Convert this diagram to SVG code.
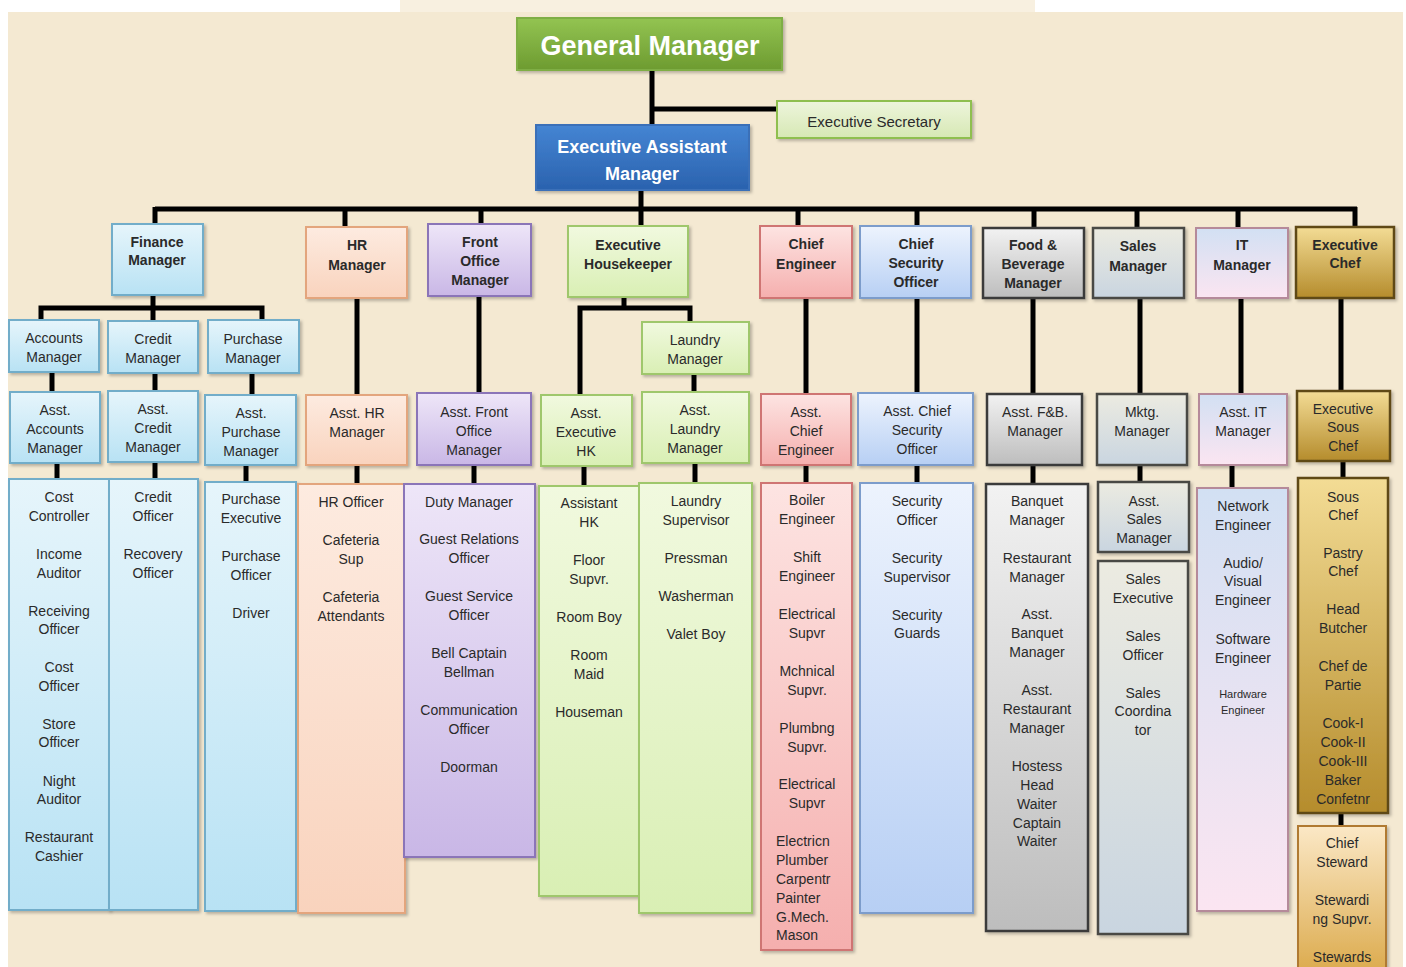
<svg xmlns="http://www.w3.org/2000/svg" width="1406" height="967" viewBox="0 0 1406 967">
<defs>
<linearGradient id="gGreen" x1="0" y1="0" x2="0" y2="1"><stop offset="0" stop-color="#93c452"/><stop offset="1" stop-color="#6d9b30"/></linearGradient>
<linearGradient id="gBlueD" x1="0" y1="0" x2="0" y2="1"><stop offset="0" stop-color="#4585d3"/><stop offset="1" stop-color="#2a62ae"/></linearGradient>
<linearGradient id="gSec" x1="0" y1="0" x2="0" y2="1"><stop offset="0" stop-color="#eef5dc"/><stop offset="1" stop-color="#d6e8b4"/></linearGradient>
<linearGradient id="gFin" x1="0" y1="0" x2="0" y2="1"><stop offset="0" stop-color="#e6f5fb"/><stop offset="1" stop-color="#b8e2f4"/></linearGradient>
<linearGradient id="gHR" x1="0" y1="0" x2="0" y2="1"><stop offset="0" stop-color="#fdebe0"/><stop offset="1" stop-color="#f9d3bd"/></linearGradient>
<linearGradient id="gFO" x1="0" y1="0" x2="0" y2="1"><stop offset="0" stop-color="#eee6f8"/><stop offset="1" stop-color="#c9b7e6"/></linearGradient>
<linearGradient id="gHK" x1="0" y1="0" x2="0" y2="1"><stop offset="0" stop-color="#f1f9df"/><stop offset="1" stop-color="#d9efb4"/></linearGradient>
<linearGradient id="gEng" x1="0" y1="0" x2="0" y2="1"><stop offset="0" stop-color="#fde4e2"/><stop offset="1" stop-color="#f5afae"/></linearGradient>
<linearGradient id="gSecu" x1="0" y1="0" x2="0" y2="1"><stop offset="0" stop-color="#edf3fd"/><stop offset="1" stop-color="#b7cff4"/></linearGradient>
<linearGradient id="gFB" x1="0" y1="0" x2="0" y2="1"><stop offset="0" stop-color="#f2f2f2"/><stop offset="1" stop-color="#bdbdbd"/></linearGradient>
<linearGradient id="gSales" x1="0" y1="0" x2="0" y2="1"><stop offset="0" stop-color="#ecebe1"/><stop offset="1" stop-color="#c9d5e0"/></linearGradient>
<linearGradient id="gIT" x1="0" y1="0" x2="0" y2="1"><stop offset="0" stop-color="#d2e0f3"/><stop offset="1" stop-color="#fbe5f1"/></linearGradient>
<linearGradient id="gChef" x1="0" y1="0" x2="0" y2="1"><stop offset="0" stop-color="#f3dc95"/><stop offset="1" stop-color="#b58c2c"/></linearGradient>
<linearGradient id="gStew" x1="0" y1="0" x2="0" y2="1"><stop offset="0" stop-color="#fbe8c6"/><stop offset="1" stop-color="#dba94a"/></linearGradient>
<filter id="sh" x="-10%" y="-10%" width="130%" height="130%"><feDropShadow dx="2" dy="2" stdDeviation="1.5" flood-color="#000" flood-opacity="0.25"/></filter>
</defs>
<style>
text{font-family:"Liberation Sans",Arial,sans-serif;font-size:14px;fill:#2a2a2a;text-anchor:middle;dominant-baseline:central}
.b{font-weight:bold}
.l{text-anchor:start}
rect{stroke-width:2;filter:url(#sh)}
.bg{filter:none;stroke:none}
.fin{fill:url(#gFin);stroke:#72adc9}
.hr{fill:url(#gHR);stroke:#e3a57d}
.fo{fill:url(#gFO);stroke:#8b74b8}
.hk{fill:url(#gHK);stroke:#9fc76c}
.eng{fill:url(#gEng);stroke:#cf7573}
.secu{fill:url(#gSecu);stroke:#7b9ccb}
.fb{fill:url(#gFB);stroke:#3a3a3a;stroke-width:2.5}
.sales{fill:url(#gSales);stroke:#4a4a44;stroke-width:2.5}
.it{fill:url(#gIT);stroke:#b58a9a}
.chef{fill:url(#gChef);stroke:#5e4a18;stroke-width:2.5}
.stew{fill:url(#gStew);stroke:#b07a30}
.conn line,.conn polyline{stroke:#000;stroke-width:5;fill:none}
</style>
<rect class="bg" x="0" y="0" width="1406" height="967" fill="#ffffff"/>
<rect class="bg" x="8" y="12" width="1395" height="955" fill="#f4e9d2"/>
<rect class="bg" x="400" y="0" width="635" height="12" fill="#f8f0e0"/>

<g class="conn" id="connectors">
<line x1="652" y1="70" x2="652" y2="127"/>
<line x1="652" y1="109" x2="778" y2="109"/>
<line x1="641" y1="190" x2="641" y2="227"/>
<line x1="155" y1="209" x2="1357" y2="209"/>
<line x1="155" y1="207" x2="155" y2="225"/>
<line x1="345" y1="207" x2="345" y2="228"/>
<line x1="481" y1="207" x2="481" y2="225"/>
<line x1="798" y1="207" x2="798" y2="227"/>
<line x1="917" y1="207" x2="917" y2="227"/>
<line x1="1034" y1="207" x2="1034" y2="229"/>
<line x1="1137" y1="207" x2="1137" y2="229"/>
<line x1="1238" y1="207" x2="1238" y2="229"/>
<line x1="1355" y1="207" x2="1355" y2="228"/>
<line x1="153" y1="295" x2="153" y2="310"/>
<polyline points="41,321 41,308 262,308 262,321"/>
<line x1="153" y1="308" x2="153" y2="322"/>
<line x1="52" y1="372" x2="52" y2="393"/>
<line x1="155" y1="373" x2="155" y2="392"/>
<line x1="252" y1="373" x2="252" y2="396"/>
<line x1="57" y1="463" x2="57" y2="480"/>
<line x1="155" y1="462" x2="155" y2="480"/>
<line x1="246" y1="465" x2="246" y2="483"/>
<line x1="357" y1="298" x2="357" y2="396"/>
<line x1="357" y1="465" x2="357" y2="485"/>
<line x1="479" y1="296" x2="479" y2="394"/>
<line x1="474" y1="465" x2="474" y2="485"/>
<line x1="624" y1="297" x2="624" y2="310"/>
<polyline points="580,396 580,308 690,308 690,323"/>
<line x1="694" y1="374" x2="694" y2="393"/>
<line x1="584" y1="466" x2="584" y2="487"/>
<line x1="695" y1="463" x2="695" y2="485"/>
<line x1="806" y1="298" x2="806" y2="395"/>
<line x1="806" y1="465" x2="806" y2="484"/>
<line x1="917" y1="298" x2="917" y2="394"/>
<line x1="917" y1="465" x2="917" y2="484"/>
<line x1="1033" y1="298" x2="1033" y2="395"/>
<line x1="1033" y1="465" x2="1033" y2="485"/>
<line x1="1140" y1="298" x2="1140" y2="395"/>
<line x1="1140" y1="465" x2="1140" y2="483"/>
<line x1="1241" y1="298" x2="1241" y2="395"/>
<line x1="1232" y1="465" x2="1232" y2="489"/>
<line x1="1341" y1="298" x2="1341" y2="392"/>
<line x1="1343" y1="461" x2="1343" y2="479"/>
<line x1="1341" y1="813" x2="1341" y2="827"/>
</g>

<g id="general-manager"><rect x="517" y="18" width="265" height="52" fill="url(#gGreen)" stroke="#7fae45"/><text class="b" x="650" y="46" style="fill:#fff;font-size:27px">General Manager</text></g>
<g id="executive-secretary"><rect x="777" y="101" width="194" height="37" fill="url(#gSec)" stroke="#8fbf50"/><text x="874" y="121" style="font-size:15px">Executive Secretary</text></g>
<g id="executive-assistant-manager"><rect x="536" y="125" width="213" height="65" fill="url(#gBlueD)" stroke="#3a6fb8"/><text class="b" style="fill:#fff;font-size:18px"><tspan x="642" y="147">Executive Assistant</tspan><tspan x="642" y="174">Manager</tspan></text></g>

<g id="finance-manager"><rect class="fin" x="112" y="224" width="91" height="71"/><text class="b"><tspan x="157" y="242">Finance</tspan><tspan x="157" y="260">Manager</tspan></text></g>
<g id="accounts-manager"><rect class="fin" x="9" y="320" width="90" height="52"/><text><tspan x="54" y="338">Accounts</tspan><tspan x="54" y="357">Manager</tspan></text></g>
<g id="credit-manager"><rect class="fin" x="108" y="321" width="90" height="52"/><text><tspan x="153" y="339">Credit</tspan><tspan x="153" y="358">Manager</tspan></text></g>
<g id="purchase-manager"><rect class="fin" x="208" y="320" width="91" height="53"/><text><tspan x="253" y="339">Purchase</tspan><tspan x="253" y="358">Manager</tspan></text></g>
<g id="asst-accounts-manager"><rect class="fin" x="10" y="392" width="90" height="71"/><text><tspan x="55" y="410">Asst.</tspan><tspan x="55" y="429">Accounts</tspan><tspan x="55" y="448">Manager</tspan></text></g>
<g id="asst-credit-manager"><rect class="fin" x="108" y="391" width="90" height="71"/><text><tspan x="153" y="409">Asst.</tspan><tspan x="153" y="428">Credit</tspan><tspan x="153" y="447">Manager</tspan></text></g>
<g id="asst-purchase-manager"><rect class="fin" x="205" y="395" width="91" height="70"/><text><tspan x="251" y="413">Asst.</tspan><tspan x="251" y="432">Purchase</tspan><tspan x="251" y="451">Manager</tspan></text></g>
<g id="accounts-staff"><rect class="fin" x="9" y="479" width="100" height="431"/><text><tspan x="59" y="497">Cost</tspan><tspan x="59" y="516">Controller</tspan><tspan x="59" y="554">Income</tspan><tspan x="59" y="573">Auditor</tspan><tspan x="59" y="611">Receiving</tspan><tspan x="59" y="629">Officer</tspan><tspan x="59" y="667">Cost</tspan><tspan x="59" y="686">Officer</tspan><tspan x="59" y="724">Store</tspan><tspan x="59" y="742">Officer</tspan><tspan x="59" y="781">Night</tspan><tspan x="59" y="799">Auditor</tspan><tspan x="59" y="837">Restaurant</tspan><tspan x="59" y="856">Cashier</tspan></text></g>
<g id="credit-staff"><rect class="fin" x="109" y="479" width="89" height="431"/><text><tspan x="153" y="497">Credit</tspan><tspan x="153" y="516">Officer</tspan><tspan x="153" y="554">Recovery</tspan><tspan x="153" y="573">Officer</tspan></text></g>
<g id="purchase-staff"><rect class="fin" x="205" y="482" width="91" height="429"/><text><tspan x="251" y="499">Purchase</tspan><tspan x="251" y="518">Executive</tspan><tspan x="251" y="556">Purchase</tspan><tspan x="251" y="575">Officer</tspan><tspan x="251" y="613">Driver</tspan></text></g>

<g id="hr-manager"><rect class="hr" x="306" y="227" width="101" height="71"/><text class="b"><tspan x="357" y="245">HR</tspan><tspan x="357" y="265">Manager</tspan></text></g>
<g id="asst-hr-manager"><rect class="hr" x="306" y="395" width="101" height="70"/><text><tspan x="357" y="413">Asst.  HR</tspan><tspan x="357" y="432">Manager</tspan></text></g>
<g id="hr-staff"><rect class="hr" x="298" y="484" width="107" height="429"/><text><tspan x="351" y="502">HR Officer</tspan><tspan x="351" y="540">Cafeteria</tspan><tspan x="351" y="559">Sup</tspan><tspan x="351" y="597">Cafeteria</tspan><tspan x="351" y="616">Attendants</tspan></text></g>

<g id="front-office-manager"><rect class="fo" x="428" y="224" width="103" height="72"/><text class="b"><tspan x="480" y="242">Front</tspan><tspan x="480" y="261">Office</tspan><tspan x="480" y="280">Manager</tspan></text></g>
<g id="asst-front-office-manager"><rect class="fo" x="417" y="393" width="114" height="72"/><text><tspan x="474" y="412">Asst.  Front</tspan><tspan x="474" y="431">Office</tspan><tspan x="474" y="450">Manager</tspan></text></g>
<g id="front-office-staff"><rect class="fo" x="404" y="484" width="131" height="373"/><text><tspan x="469" y="502">Duty Manager</tspan><tspan x="469" y="539">Guest Relations</tspan><tspan x="469" y="558">Officer</tspan><tspan x="469" y="596">Guest Service</tspan><tspan x="469" y="615">Officer</tspan><tspan x="469" y="653">Bell Captain</tspan><tspan x="469" y="672">Bellman</tspan><tspan x="469" y="710">Communication</tspan><tspan x="469" y="729">Officer</tspan><tspan x="469" y="767">Doorman</tspan></text></g>

<g id="executive-housekeeper"><rect class="hk" x="568" y="226" width="120" height="71"/><text class="b"><tspan x="628" y="245">Executive</tspan><tspan x="628" y="264">Housekeeper</tspan></text></g>
<g id="laundry-manager"><rect class="hk" x="642" y="322" width="107" height="52"/><text><tspan x="695" y="340">Laundry</tspan><tspan x="695" y="359">Manager</tspan></text></g>
<g id="asst-executive-hk"><rect class="hk" x="541" y="395" width="91" height="71"/><text><tspan x="586" y="413">Asst.</tspan><tspan x="586" y="432">Executive</tspan><tspan x="586" y="451">HK</tspan></text></g>
<g id="asst-laundry-manager"><rect class="hk" x="642" y="392" width="107" height="71"/><text><tspan x="695" y="410">Asst.</tspan><tspan x="695" y="429">Laundry</tspan><tspan x="695" y="448">Manager</tspan></text></g>
<g id="hk-staff"><rect class="hk" x="539" y="486" width="101" height="410"/><text><tspan x="589" y="503">Assistant</tspan><tspan x="589" y="522">HK</tspan><tspan x="589" y="560">Floor</tspan><tspan x="589" y="579">Supvr.</tspan><tspan x="589" y="617">Room Boy</tspan><tspan x="589" y="655">Room</tspan><tspan x="589" y="674">Maid</tspan><tspan x="589" y="712">Houseman</tspan></text></g>
<g id="laundry-staff"><rect class="hk" x="639" y="483" width="113" height="430"/><text><tspan x="696" y="501">Laundry</tspan><tspan x="696" y="520">Supervisor</tspan><tspan x="696" y="558">Pressman</tspan><tspan x="696" y="596">Washerman</tspan><tspan x="696" y="634">Valet Boy</tspan></text></g>

<g id="chief-engineer"><rect class="eng" x="760" y="226" width="92" height="72"/><text class="b"><tspan x="806" y="244">Chief</tspan><tspan x="806" y="264">Engineer</tspan></text></g>
<g id="asst-chief-engineer"><rect class="eng" x="761" y="394" width="90" height="71"/><text><tspan x="806" y="412">Asst.</tspan><tspan x="806" y="431">Chief</tspan><tspan x="806" y="450">Engineer</tspan></text></g>
<g id="engineering-staff"><rect class="eng" x="761" y="483" width="91" height="467"/><text><tspan x="807" y="500">Boiler</tspan><tspan x="807" y="519">Engineer</tspan><tspan x="807" y="557">Shift</tspan><tspan x="807" y="576">Engineer</tspan><tspan x="807" y="614">Electrical</tspan><tspan x="807" y="633">Supvr</tspan><tspan x="807" y="671">Mchnical</tspan><tspan x="807" y="690">Supvr.</tspan><tspan x="807" y="728">Plumbng</tspan><tspan x="807" y="747">Supvr.</tspan><tspan x="807" y="784">Electrical</tspan><tspan x="807" y="803">Supvr</tspan></text><text class="l"><tspan x="776" y="841">Electricn</tspan><tspan x="776" y="860">Plumber</tspan><tspan x="776" y="879">Carpentr</tspan><tspan x="776" y="898">Painter</tspan><tspan x="776" y="917">G.Mech.</tspan><tspan x="776" y="935">Mason</tspan></text></g>

<g id="chief-security-officer"><rect class="secu" x="860" y="226" width="111" height="72"/><text class="b"><tspan x="916" y="244">Chief</tspan><tspan x="916" y="263">Security</tspan><tspan x="916" y="282">Officer</tspan></text></g>
<g id="asst-chief-security-officer"><rect class="secu" x="858" y="393" width="115" height="72"/><text><tspan x="917" y="411">Asst. Chief</tspan><tspan x="917" y="430">Security</tspan><tspan x="917" y="449">Officer</tspan></text></g>
<g id="security-staff"><rect class="secu" x="860" y="483" width="113" height="430"/><text><tspan x="917" y="501">Security</tspan><tspan x="917" y="520">Officer</tspan><tspan x="917" y="558">Security</tspan><tspan x="917" y="577">Supervisor</tspan><tspan x="917" y="615">Security</tspan><tspan x="917" y="633">Guards</tspan></text></g>

<g id="fb-manager"><rect class="fb" x="983" y="228" width="101" height="70"/><text class="b"><tspan x="1033" y="245">Food &amp;</tspan><tspan x="1033" y="264">Beverage</tspan><tspan x="1033" y="283">Manager</tspan></text></g>
<g id="asst-fb-manager"><rect class="fb" x="987" y="394" width="95" height="71"/><text><tspan x="1035" y="412">Asst. F&amp;B.</tspan><tspan x="1035" y="431">Manager</tspan></text></g>
<g id="fb-staff"><rect class="fb" x="986" y="484" width="102" height="447"/><text><tspan x="1037" y="501">Banquet</tspan><tspan x="1037" y="520">Manager</tspan><tspan x="1037" y="558">Restaurant</tspan><tspan x="1037" y="577">Manager</tspan><tspan x="1037" y="614">Asst.</tspan><tspan x="1037" y="633">Banquet</tspan><tspan x="1037" y="652">Manager</tspan><tspan x="1037" y="690">Asst.</tspan><tspan x="1037" y="709">Restaurant</tspan><tspan x="1037" y="728">Manager</tspan><tspan x="1037" y="766">Hostess</tspan><tspan x="1037" y="785">Head</tspan><tspan x="1037" y="804">Waiter</tspan><tspan x="1037" y="823">Captain</tspan><tspan x="1037" y="841">Waiter</tspan></text></g>

<g id="sales-manager"><rect class="sales" x="1093" y="228" width="91" height="70"/><text class="b"><tspan x="1138" y="246">Sales</tspan><tspan x="1138" y="266">Manager</tspan></text></g>
<g id="mktg-manager"><rect class="sales" x="1097" y="394" width="90" height="71"/><text><tspan x="1142" y="412">Mktg.</tspan><tspan x="1142" y="431">Manager</tspan></text></g>
<g id="asst-sales-manager"><rect class="sales" x="1098" y="482" width="91" height="70"/><text><tspan x="1144" y="501">Asst.</tspan><tspan x="1144" y="519">Sales</tspan><tspan x="1144" y="538">Manager</tspan></text></g>
<g id="sales-staff"><rect class="sales" x="1098" y="561" width="90" height="373"/><text><tspan x="1143" y="579">Sales</tspan><tspan x="1143" y="598">Executive</tspan><tspan x="1143" y="636">Sales</tspan><tspan x="1143" y="655">Officer</tspan><tspan x="1143" y="693">Sales</tspan><tspan x="1143" y="711">Coordina</tspan><tspan x="1143" y="730">tor</tspan></text></g>

<g id="it-manager"><rect class="it" x="1196" y="228" width="92" height="70"/><text class="b"><tspan x="1242" y="245">IT</tspan><tspan x="1242" y="265">Manager</tspan></text></g>
<g id="asst-it-manager"><rect class="it" x="1199" y="394" width="88" height="71"/><text><tspan x="1243" y="412">Asst. IT</tspan><tspan x="1243" y="431">Manager</tspan></text></g>
<g id="it-staff"><rect class="it" x="1197" y="488" width="91" height="423"/><text><tspan x="1243" y="506">Network</tspan><tspan x="1243" y="525">Engineer</tspan><tspan x="1243" y="563">Audio/</tspan><tspan x="1243" y="581">Visual</tspan><tspan x="1243" y="600">Engineer</tspan><tspan x="1243" y="639">Software</tspan><tspan x="1243" y="658">Engineer</tspan></text><text style="font-size:11px"><tspan x="1243" y="694">Hardware</tspan><tspan x="1243" y="710">Engineer</tspan></text></g>

<g id="executive-chef"><rect class="chef" x="1296" y="227" width="98" height="71"/><text class="b"><tspan x="1345" y="245">Executive</tspan><tspan x="1345" y="263">Chef</tspan></text></g>
<g id="executive-sous-chef"><rect class="chef" x="1297" y="391" width="93" height="70"/><text><tspan x="1343" y="409">Executive</tspan><tspan x="1343" y="427">Sous</tspan><tspan x="1343" y="446">Chef</tspan></text></g>
<g id="kitchen-staff"><rect class="chef" x="1298" y="478" width="90" height="335"/><text><tspan x="1343" y="497">Sous</tspan><tspan x="1343" y="515">Chef</tspan><tspan x="1343" y="553">Pastry</tspan><tspan x="1343" y="571">Chef</tspan><tspan x="1343" y="609">Head</tspan><tspan x="1343" y="628">Butcher</tspan><tspan x="1343" y="666">Chef de</tspan><tspan x="1343" y="685">Partie</tspan><tspan x="1343" y="723">Cook-I</tspan><tspan x="1343" y="742">Cook-II</tspan><tspan x="1343" y="761">Cook-III</tspan><tspan x="1343" y="780">Baker</tspan><tspan x="1343" y="799">Confetnr</tspan></text></g>
<g id="stewarding"><rect class="stew" x="1298" y="826" width="88" height="150"/><text><tspan x="1342" y="843">Chief</tspan><tspan x="1342" y="862">Steward</tspan><tspan x="1342" y="900">Stewardi</tspan><tspan x="1342" y="919">ng Supvr.</tspan><tspan x="1342" y="957">Stewards</tspan></text></g>
</svg>
